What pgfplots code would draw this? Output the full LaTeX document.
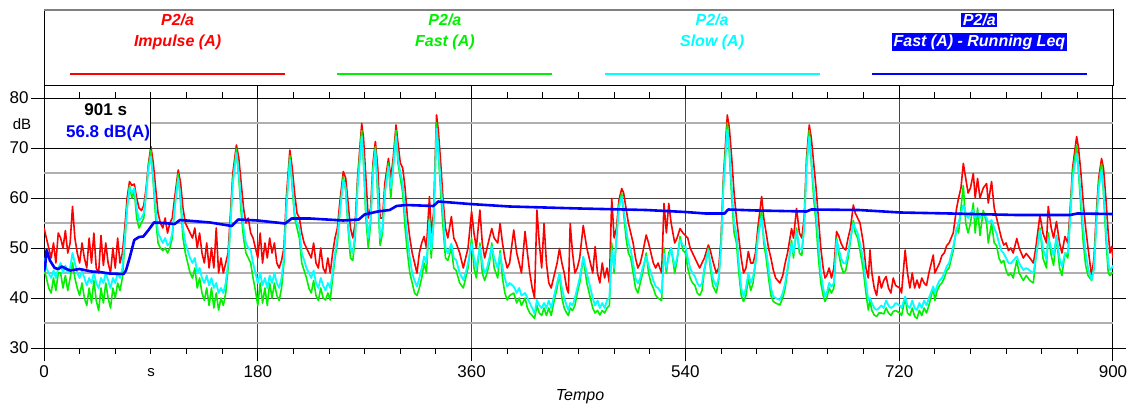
\documentclass[border=0pt]{standalone}
\usepackage{fontspec}
\setmainfont{Liberation Sans}
\usepackage{pgfplots}
\usepackage{pgfplotstable}
\pgfplotsset{compat=1.18}
\definecolor{cred}{RGB}{255,0,0}
\definecolor{cgreen}{RGB}{0,240,0}
\definecolor{ccyan}{RGB}{0,255,255}
\definecolor{cblue}{RGB}{0,0,255}
\definecolor{gridmaj}{RGB}{70,70,70}
\definecolor{gridmin}{RGB}{175,175,175}

\pgfplotstableread{
t R G C
0 54 46 48
2 52 44 46
4 50 42 45
6 48 41 44
8 51 44 45.5
10 47 41.5 44
12 53 45 46
14 52 45 47
16 50 42 45
18 53.5 44.5 46.5
20 49 41.5 45
22 51 44 46
24 58.3 47 49
26 52 44 47
28 49 42 45
30 47 40.5 44
32 51 43 45.5
34 48 40 44
36 46 38.5 42.5
38 52 42 44
40 47 39 43
42 53 43.5 45
44 46 39.5 43
46 45 37.5 42
48 52.5 42 44
50 46.5 39 43
52 51 43 45
54 47 40 43.5
56 45 38 42
58 50 42 44
60 46 40 43
62 52 43 45
64 47 41.5 44
66 49 44 46
68 54 51 52
70 60 58 58
72 63.3 62.5 62
74 62.5 60 61
76 62.8 61.5 62
78 60 56 58
80 58 54 55.5
82 57.5 55 56
84 58.5 56 57
86 62 61 61
88 67 66.5 66
90 70.3 69.5 68.3
92 67 63 64
94 62 56 58
96 57 51 53
98 55 50 52
100 54 49.5 51
102 56 50 52
104 53 49 50.5
106 55 50 51
108 56 52 53
110 60 58 58
113 65.6 64.8 64
115 63 59 60
117 58 52 54
119 55 49 51
121 54 47 49.5
123 53 45 48
125 52 44 47
127 54 46 48
129 50 42 45
131 53 44 46
133 49 41 44
135 47 39.5 43
137 51 42 44.5
139 46 38.5 42.5
141 50 42 44
143 46 38 42
145 54 41 43
147 45 37.6 41
149 48 40 42
151 45 38.5 41
153 47 41 43
155 49 46 47
157 57 55 55
159 65 63.5 63
162 70.6 69.8 69
164 68 64 65
166 63 57 59
168 58 52 54
170 55 49 51
172 56 48 50
174 53 47 49.6
176 52 44 47
178 50 41.5 45
180 48 38.5 43
182 53 43 45
184 47 39 42.5
186 51 42 44
188 48 38.5 42
190 52 43 44.5
192 49 40 43
194 51 43 45
196 47 40.5 43
198 46 39.5 42
200 47.5 42 44
202 50 47 48
204 60 58 58
207 69.6 68.5 67.6
209 66 62 63
211 61 56 57
213 57 54 55
215 56 52 54
217 53 47 49
219 51 45.5 47.6
221 50 44 46
223 49 42 45
225 48 41 44
227 51 43.5 45.5
229 47 40.5 43
231 46 39.5 42
233 50 42 44
235 46 40 42.5
237 45 39.6 41.5
239 48 41 43
241 45 39.6 42
243 49 44 45
245 52 48 48.9
247 54 51 52
249 59 57 57
252 65.3 64.3 63.6
254 64 61.5 62
256 59 54 55
258 54 48 50
260 52 47.5 49
262 55 52 53
264 64 63 62
267.5 74.9 73.5 72.3
269 72 67 68
271 64 56 58
273 56 50 52
275 58 55 56
277 67 66 65
279 71.3 70.3 69.6
281 66 60 62
283 56 50.5 52
285 56 53 54
287 63 61 61
290 67.9 67 66.3
292 64 60 62
294 68 66.5 66
296.4 74.6 73.5 72.3
298 71 67 68
300 67 64 65
302 66 61 63
304 62 54 57
306 56 49 52
308 52 45 48
310 49 43 45
312 47 41 43.5
314 45 40.5 42.3
316 49 42 44
318 51 44 46
320 52.3 47 48.3
322 50 45 47
324.5 60.3 56 55.6
326 53 48 49.6
328 57 55 55
330.5 76.6 75 73.9
332 73.5 69 70
334 67 61 63
336 59.6 54 57
338 54 48 50
340 52 47.5 48.9
343 56.3 50 50.9
345 52 46 48
347 51 45.5 47.6
350 49 43 45
353 46 42 43.6
355 48 44 45
357 50 46 47
360 57.3 52 50.9
362 53 46 48
364 50 44 46
367 57.6 51 50.3
369 51 45 47
371 48 43.5 44.9
373 50 45 46
375 52 47 48
377 53.9 51 50.3
379 52 46 48
382 51 44 46
384 54.9 49.5 48.9
386 51 44 46
388 48 41 44
390 46 39.6 42.3
392 47 40.5 43
395.5 53.6 41 42.3
398 49 39 41
400 47 40 42
402 45 38.5 40.5
405 53.3 40 41
407 49 38 40
409 45 37 39
411 42 36.5 38
413 40 35.9 36.9
415 57.6 38.5 39.6
417 51 37 38.5
419 46 36.5 38
421 54.9 38 39
423 47 36.5 38
425 43 38 39.5
427 42 36.5 38
430 45 40 41
432 47 42 43
434 49.9 45 44.9
436 47 40 42
438 45 38 40
440 42 37 38.5
441.5 41 36.5 37.6
443 54.9 38 39
445 49 37.5 38.5
447 45 38.5 40
449 46 41 42
451 48 43 44
454 54.5 48 48.3
457 50 43 45
460 47 40 42
462 45 38 40
464 50.3 37 38.5
466 45 37.5 39.5
468 43 36.6 38
470 47 37.5 39
472 44 37 38
474 46 38 39.5
476 43 38.5 40
478 59.9 51 49.6
480 52 45 46
482 54 52 52
484 59.5 58.5 58
486.4 61.9 61 60.3
488 61 57 58
490 58 52 54
492 55 49 51
494 53 48 49.6
496 51 45 47
498 48 42 44
500 46 41 42.9
502 47 43 44
504 49 45 46
507 52.6 49 48.3
509 51 45 46.5
511 49 43 45
513 47 42 43.5
515 46 40.5 42.3
517 47 40 42
520 45 39.5 40.9
522 58.9 50 48.9
524 53 45 46
526 58.9 49 48
528 55 50 50
531 51 45 46.3
533 52 47.5 48
535.5 53.9 52.3 51.6
538 53 49.5 50.5
540 52.5 49 50.3
542 52 46 48
544 50 44 46
546 49 43 45
548 48 42.5 44.3
550 47 41 43
552 46 40.5 42.3
554 47 41.5 43
556 48 45.5 46
559.3 50.6 50 49.6
561 49.5 46 47
563 47.5 42.5 44
566 45 41 42.3
568 46 43.5 44
570 51.5 50.5 50
572 64 63 62
575.3 76.6 75 73.6
577 74 69 70
579 68 60 62
581 61 53 55
583 56 51 52.9
585 52 45 47
587 48 40.5 42
589 45 39.3 40.3
591 46 40.5 42
593 49.3 44 45
595 47 41.5 43
597 47 43 44.3
599 49 47 47
601 54 52.5 52
604.2 60.3 57.5 56.3
606 56 51 52
608 53 48 49.6
610 50 44 46
612 48 40.5 42
614 45.6 39.3 40.3
616 44 39 40
619.5 43 38.6 39.6
622 44.5 40 41
624 47 42 43
626 49 45.5 46
629.4 53.9 51.5 50.9
631 52 48 49
633.6 57.9 54 53.3
636 53 49 50
638 52 48.5 49.6
640 56 54.5 54
642 68 67 66
644.3 74.6 73.5 72.3
646 72 67 68
648 67 60 62
650 62 55 57.6
652 56 48 51
654 50 43 45
656 46 40.5 42
657.5 44 39.3 40.3
659 44.5 40 41
661 46 42 43
663 44 41 42.3
665 46 42 43
667.3 53.3 52 51.6
669 52.5 49 50
671 51 46.5 48
673 50 45 47
675 49.6 45.5 46.9
677 52 48 49
679 54 51.5 52
681.4 58.6 55.5 54.9
683 57 53 54
685 56 52 53
687 55 49.5 51
689.8 51 45.5 47.6
692 46 41 43
694 44 37.6 39.6
695.4 49.6 39.5 40
697 45 37.5 39
699 42 36.6 38
701 40.5 36.3 37.6
703 44.3 37 38
705 42 37 38.5
707 43.5 36.8 38
709 44.3 38 39.5
711 42 37 38.5
713 41 36.5 38
715 44 37.3 38.3
717 42.5 37.5 39
720.5 42 37 38.5
722 41 36.5 38
725 49.6 40 40.3
727 45 37 38.5
729 42 36.5 38
731 45 38 39.5
733 42 36.3 38
735 43.6 35.9 37.6
737 42 37.5 39
739 44 36.5 38
741 43 38 39.5
743 42.5 37 38.5
745 45 38.5 40
748.7 48.6 42 42.3
750 45 39.5 41
752 46 41.5 42.5
754 47 42.5 43.5
756 48.5 43 44
758 49 44 45
760 50.5 45.5 46.3
762 51 46 47
765.5 53 49.5 50.3
768.3 57.9 54 53.6
770 60 53 55
772 62 58 57
774 66.9 62.5 58.6
776 64 55 57
778 61 53 56
780 62 55 57
782.4 64.9 59 57.6
784 60 53 56
786 63.9 58 57
788 60 52.5 56
790.8 62 57.5 56.9
793.6 62.9 55 56
795 59 51 55
797.8 63.3 55 55.6
800 58 51 54
802 56 50.5 52.9
804 54 48 51
806 52 47 49.5
808 50.6 47.5 48.9
810 51 45.5 48
812 49.5 44.5 47
814 50 45 46.9
816 49 44 47.5
819 51.9 47.5 48.3
821 50 45 47
824.5 48 43.5 45.6
827 48.9 44.5 46
830 48 43.5 45.5
833 47 43 44.9
835 50 48 48
838.5 56.6 54 53.6
841 53 48 50
844 51 46 47.6
845.5 58.3 53 52
848 54 48.5 50
850 52 46.5 48.5
852.4 55.3 52.5 52.3
855 51 46 48
857 49 44.5 46.3
859.6 52.3 49 48.9
862 51 48 49
864 58 56.5 56
866 66 65 64
869.4 72.3 70.5 68.9
871 70 65 66
873 65 58 60
875 59 51 54
877 54 46.5 49
879 50 44.5 46
882 44.3 43.5 43.6
884 48 46 46
886 57 55.5 55
888 64 63 62
890.4 67.9 66.8 65.6
892 66 61 62
894 60 52 54
896 53 45 47
897.5 49 44.5 45.6
899 50.3 45 46
900 48 45 46.5
}\levels

\pgfplotstableread{
t L
0 45.3
1 46.5
2.2 49.6
5 47.5
9 46
12 45.8
15 46.3
19 45.8
22 45.5
30 45.8
40 45.3
47 45.2
55 44.9
67 44.8
69 45.5
72.4 48.3
76 51.6
80 52.2
83.6 52.3
88 53.6
92.6 55.1
100 55.0
110 54.8
114.5 55.6
130 55.3
140 55.1
158 54.4
163.6 55.7
180 55.5
203 54.9
208.5 55.9
224 55.9
252 55.5
265 55.7
269.9 56.7
281 57.3
291 57.6
296.8 58.4
305 58.6
327.8 58.4
332 59.3
358.6 58.8
392 58.3
451 57.9
507 57.6
540 57.2
557 56.9
573 56.9
576 57.7
600 57.5
641.9 57.3
646 57.7
686 57.6
721 57.1
763 56.9
819 56.6
864 56.6
870 56.9
900 56.8
}\leq

\begin{document}
\begin{tikzpicture}[x=1pt,y=1pt]
\path[use as bounding box] (0,0) rectangle (1135,408);
\begin{axis}[
  at={(44pt,60pt)}, anchor=south west,
  width=1069pt, height=250pt, scale only axis,
  xmin=0, xmax=900, ymin=30, ymax=80,
  xtick={0,180,360,540,720,900},
  minor xtick={30,60,90,120,150,210,240,270,300,330,390,420,450,480,510,570,600,630,660,690,750,780,810,840,870},
  ytick={30,40,50,60,70,80},
  extra y ticks={35,45,55,65,75},
  extra y tick labels={},
  extra y tick style={grid=major, major grid style={gridmin, line width=1.6pt}, major tick length=0pt},
  xmajorgrids, ymajorgrids,
  major grid style={gridmaj, line width=1pt},
  tick align=outside,
  major tick length=13pt,
  minor tick length=6pt,
  tick style={black, line width=1pt},
  axis line style={black, line width=1pt},
  /pgf/number format/assume math mode=true,
  tick label style={font=\fontsize{17}{19}\selectfont},
  xticklabel style={yshift=-1pt},
  yticklabel style={xshift=1pt},
  axis on top=false,
  clip=true,
]
\addplot[cred, line width=1.6pt, line join=round] table[x=t,y=R] {\levels};
\addplot[cgreen, line width=1.6pt, line join=round] table[x=t,y=G] {\levels};
\addplot[ccyan, line width=1.8pt, line join=round] table[x=t,y=C] {\levels};
\addplot[cblue, line width=2.6pt, line join=round] table[x=t,y=L] {\leq};
\draw[black, line width=1pt, fill=white] (axis cs:0,70) rectangle (axis cs:90,80);
\node[font=\fontsize{17}{19}\selectfont\bfseries] at (axis cs:52,77.6) {901 s};
\node[font=\fontsize{17}{19}\selectfont\bfseries, text=cblue] at (axis cs:54,73) {56.8 dB(A)};
\end{axis}
% axis labels
\node[font=\fontsize{15}{17}\selectfont] at (22,284) {dB};
\node[font=\fontsize{15}{17}\selectfont] at (151,35) {s};
\node[font=\fontsize{16}{18}\selectfont\itshape] at (580,11) {Tempo};
% legend box
\draw[black, line width=1pt] (44,323) rectangle (1113,398);
\draw[gray, line width=2pt] (44,398) -- (1113,398);
\foreach \cx/\col/\txt in {177.6/cred/Impulse (A), 444.9/cgreen/Fast (A), 712.1/ccyan/Slow (A)} {
  \node[font=\fontsize{16}{18}\selectfont\bfseries\itshape, text=\col] at (\cx,388) {P2/a};
  \node[font=\fontsize{16}{18}\selectfont\bfseries\itshape, text=\col] at (\cx,366) {\txt};
  \draw[\col, line width=2pt] (\cx-107.5,334) -- (\cx+107.5,334);
}
\node[font=\fontsize{16}{18}\selectfont\bfseries\itshape, text=white, fill=cblue, inner sep=1.5pt] at (979.4,388) {P2/a};
\node[font=\fontsize{16}{18}\selectfont\bfseries\itshape, text=white, fill=cblue, inner sep=1.5pt] at (979.4,366) {Fast (A) - Running Leq};
\draw[cblue, line width=2pt] (979.4-107.5,334) -- (979.4+107.5,334);
\end{tikzpicture}
\end{document}
